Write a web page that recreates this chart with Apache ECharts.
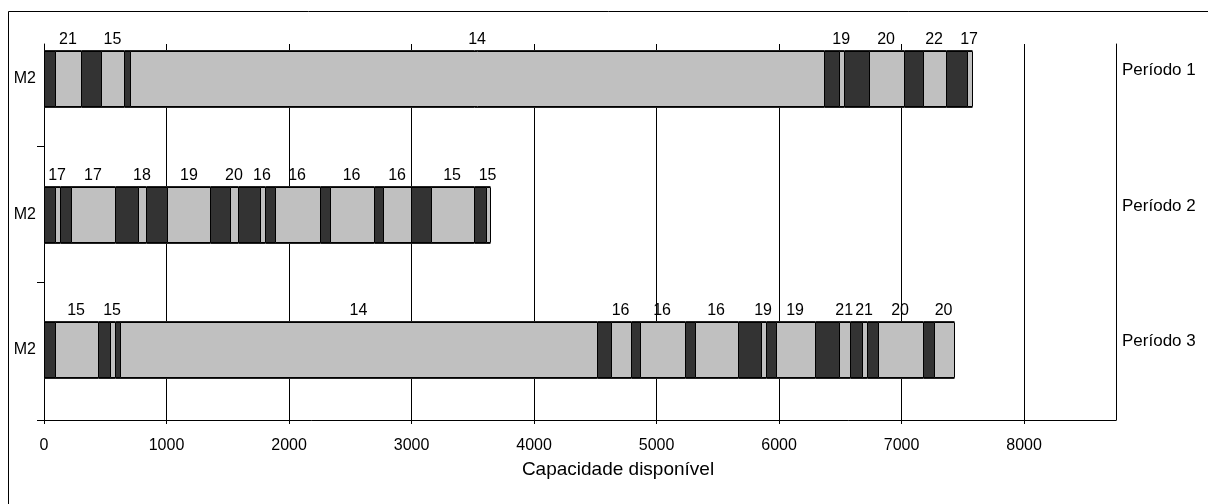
<!DOCTYPE html>
<html><head><meta charset="utf-8">
<script src="https://cdn.jsdelivr.net/npm/echarts@6/dist/echarts.min.js"></script>
<style>html,body{margin:0;padding:0;background:#fff}#c{width:1208px;height:504px}</style>
</head><body><div id="c"></div>
<script>
// ---- data ----
const rowMachines = ['M2', 'M2', 'M2'];
const rowPeriods = ['Período 1', 'Período 2', 'Período 3'];
const xAxisTitle = 'Capacidade disponível';

const p1Products = [21, 15, 14, 19, 20, 22, 17];
const p1Setup = [86, 163, 57, 123, 204, 155, 172];
const p1Proc = [220, 180, 5657, 41, 285, 188, 40];

const p2Products = [17, 17, 18, 19, 20, 16, 16, 16, 16, 15, 15];
const p2Setup = [86, 97, 195, 179, 163, 179, 82, 82, 81, 163, 98];
const p2Proc = [41, 352, 58, 351, 58, 41, 367, 359, 221, 351, 33];

const p3Products = [15, 15, 14, 16, 16, 16, 19, 19, 21, 21, 20, 20];
const p3Setup = [86, 98, 48, 114, 73, 81, 188, 81, 196, 97, 90, 90];
const p3Proc = [351, 41, 3886, 164, 368, 351, 41, 319, 90, 41, 367, 163];

// ---- build job table ----
function buildRow(row, products, setup, proc) {
  const out = [];
  let t = 0;
  for (let i = 0; i < products.length; i++) {
    const s = t, m = t + setup[i], e = m + proc[i];
    out.push([s, m, e, row, products[i]]);
    t = e;
  }
  return out;
}
const jobs = [].concat(
  buildRow(1, p1Products, p1Setup, p1Proc),
  buildRow(2, p2Products, p2Setup, p2Proc),
  buildRow(3, p3Products, p3Setup, p3Proc)
);

const FONT = 'Liberation Sans, Arial, sans-serif';
const chart = echarts.init(document.getElementById('c'), null, {renderer: 'canvas'});
const yMin = 0.742, yMax = 3.517;

chart.setOption({
  backgroundColor: '#fff',
  animation: false,
  graphic: [{
    type: 'rect', silent: true, z: -10,
    shape: {x: 8.5, y: 11.5, width: 1400, height: 700},
    style: {fill: 'none', stroke: '#000', lineWidth: 1}
  }],
  grid: {left: 44, right: 92, top: 44, bottom: 84},
  xAxis: {
    type: 'value', min: 0, max: 8750, interval: 1000,
    axisLine: {show: true, lineStyle: {color: '#000', width: 1}},
    axisTick: {show: true, length: 4, lineStyle: {color: '#000'}},
    splitLine: {show: true, lineStyle: {color: '#000', width: 1}},
    axisLabel: {color: '#000', fontFamily: FONT, fontSize: 16, margin: 18, showMaxLabel: false,
                formatter: v => String(v)},
    name: xAxisTitle, nameLocation: 'middle', nameGap: 40,
    nameTextStyle: {color: '#000', fontFamily: FONT, fontSize: 19, padding: [0, 0, 0, 76]}
  },
  yAxis: [{
    type: 'value', inverse: true, min: yMin, max: yMax, position: 'left',
    axisLine: {show: true, lineStyle: {color: '#000', width: 1}},
    axisTick: {show: true, length: 7, customValues: [1.5, 2.5, yMax], lineStyle: {color: '#000'}},
    splitLine: {show: false},
    axisLabel: {
      customValues: [1, 2, 3], color: '#000', fontFamily: FONT, fontSize: 16, margin: 8,
      formatter: v => rowMachines[Math.round(v) - 1]
    }
  }, {
    type: 'value', inverse: true, min: yMin, max: yMax, position: 'right',
    axisLine: {show: true, lineStyle: {color: '#000', width: 1}},
    axisTick: {show: false},
    splitLine: {show: false},
    axisLabel: {
      customValues: [1, 2, 3], color: '#000', fontFamily: FONT, fontSize: 17, margin: 6,
      verticalAlign: 'bottom',
      formatter: v => rowPeriods[Math.round(v) - 1]
    }
  }],
  series: [{
    type: 'custom',
    xAxisIndex: 0, yAxisIndex: 0,
    encode: {x: [0, 1, 2], y: 3},
    data: jobs,
    renderItem: function (params, api) {
      const s = api.value(0), m = api.value(1), e = api.value(2), r = api.value(3);
      const p0 = api.coord([s, r]), p1 = api.coord([m, r]), p2 = api.coord([e, r]);
      const h = api.size([0, 1])[1] * 0.406;
      const y = Math.round(p0[1] - h / 2) + 0.5;
      const hh = Math.round(h);
      const x0 = Math.round(p0[0]) + 0.5, x1 = Math.round(p1[0]) + 0.5, x2 = Math.round(p2[0]) + 0.5;
      return {
        type: 'group',
        children: [
          {type: 'rect', shape: {x: x0, y: y, width: x1 - x0, height: hh},
           style: {fill: '#333333', stroke: '#000', lineWidth: 1}},
          {type: 'rect', shape: {x: x1, y: y, width: x2 - x1, height: hh},
           style: {fill: '#c0c0c0', stroke: '#000', lineWidth: 1}},
          {type: 'line', shape: {x1: x0, y1: y - 1, x2: x2, y2: y - 1},
           style: {stroke: '#222', lineWidth: 1}},
          {type: 'line', shape: {x1: x0, y1: y + hh + 1, x2: x2, y2: y + hh + 1},
           style: {stroke: '#222', lineWidth: 1}},
          {type: 'text', x: (p1[0] + p2[0]) / 2, y: y - 4,
           style: {text: String(api.value(4)), fill: '#000', font: '16px ' + FONT,
                   align: 'center', verticalAlign: 'bottom'}}
        ]
      };
    }
  }]
});
</script>
</body></html>
